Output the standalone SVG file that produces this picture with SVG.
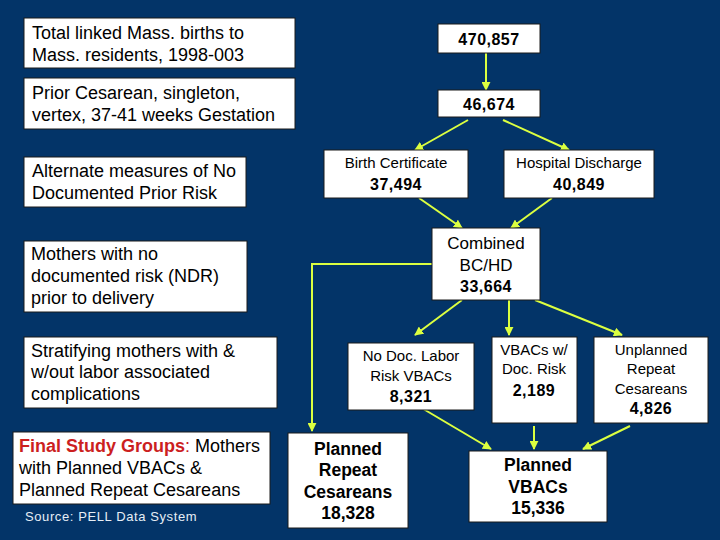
<svg xmlns="http://www.w3.org/2000/svg" width="720" height="540" viewBox="0 0 720 540">
<defs>
<style>
.box{fill:#ffffff;stroke:#1a1a1a;stroke-width:1}
.t{font-family:"Liberation Sans",Arial,sans-serif;font-size:18px;fill:#000}
.s{font-family:"Liberation Sans",Arial,sans-serif;font-size:15px;fill:#000;text-anchor:middle}
.n{font-family:"Liberation Sans",Arial,sans-serif;font-size:16px;font-weight:bold;fill:#000;text-anchor:middle;letter-spacing:0.5px}
.b{font-family:"Liberation Sans",Arial,sans-serif;font-size:17.5px;font-weight:bold;fill:#000;text-anchor:middle}
.c{font-family:"Liberation Sans",Arial,sans-serif;font-size:17px;fill:#000;text-anchor:middle}
.ar{stroke:#dcff40;stroke-width:2;fill:none;marker-end:url(#ah)}
</style>
<marker id="ah" viewBox="0 0 10 10" refX="9" refY="5" markerWidth="4.5" markerHeight="4.5" orient="auto" markerUnits="strokeWidth">
<path d="M0,0 L10,5 L0,10 z" fill="#dcff40"/>
</marker>
</defs>
<rect width="720" height="540" fill="#033468"/>

<g id="connectors">
<line class="ar" x1="486" y1="53" x2="486" y2="90"/>
<line class="ar" x1="468" y1="120" x2="415" y2="150"/>
<line class="ar" x1="503" y1="120" x2="569" y2="150"/>
<line class="ar" x1="419" y1="198" x2="462" y2="228"/>
<line class="ar" x1="552" y1="198" x2="511" y2="228"/>
<polyline class="ar" points="432,264 312,264 312,431"/>
<line class="ar" x1="462" y1="300" x2="415" y2="335"/>
<line class="ar" x1="509" y1="300" x2="509" y2="335"/>
<line class="ar" x1="535" y1="300" x2="622" y2="335"/>
<line class="ar" x1="420" y1="407" x2="491" y2="449"/>
<line class="ar" x1="534" y1="426" x2="534" y2="449"/>
<line class="ar" x1="630" y1="426" x2="583" y2="449"/>
</g>

<g id="label-total">
<rect class="box" x="24" y="18" width="271" height="50"/>
<text class="t" x="32" y="39">Total linked Mass. births to</text>
<text class="t" x="32" y="61">Mass. residents, 1998-003</text>
</g>
<g id="label-prior">
<rect class="box" x="24" y="78" width="271" height="51"/>
<text class="t" x="32" y="99">Prior Cesarean, singleton,</text>
<text class="t" x="32" y="121">vertex, 37-41 weeks Gestation</text>
</g>
<g id="label-alternate">
<rect class="box" x="24" y="157" width="222" height="50"/>
<text class="t" x="32" y="177">Alternate measures of No</text>
<text class="t" x="32" y="199">Documented Prior Risk</text>
</g>
<g id="label-mothers">
<rect class="box" x="24" y="241" width="223" height="71"/>
<text class="t" x="31" y="260">Mothers with no</text>
<text class="t" x="31" y="282">documented risk (NDR)</text>
<text class="t" x="31" y="304">prior to delivery</text>
</g>
<g id="label-stratifying">
<rect class="box" x="24" y="337" width="253" height="71"/>
<text class="t" x="31" y="357">Stratifying mothers with &amp;</text>
<text class="t" x="31" y="378">w/out labor associated</text>
<text class="t" x="31" y="400">complications</text>
</g>
<g id="label-final">
<rect class="box" x="13" y="432" width="257" height="72"/>
<text class="t" x="19" y="452"><tspan fill="#cc1f1f" font-weight="bold">Final Study Groups</tspan><tspan fill="#cc1f1f">:</tspan> Mothers</text>
<text class="t" x="19" y="474">with Planned VBACs &amp;</text>
<text class="t" x="19" y="496">Planned Repeat Cesareans</text>
</g>
<text x="25" y="521" font-family="Liberation Sans, Arial, sans-serif" font-size="13" fill="#e6eef6" letter-spacing="0.6">Source: PELL Data System</text>

<g id="n470857">
<rect class="box" x="438" y="24" width="102" height="29"/>
<text class="n" x="489" y="45" font-size="17">470,857</text>
</g>
<g id="n46674">
<rect class="box" x="438" y="90" width="102" height="27"/>
<text class="n" x="489" y="110" font-size="17">46,674</text>
</g>
<g id="birth-certificate">
<rect class="box" x="324" y="150" width="144" height="48"/>
<text class="s" x="396" y="168">Birth Certificate</text>
<text class="n" x="396" y="190">37,494</text>
</g>
<g id="hospital-discharge">
<rect class="box" x="504" y="150" width="150" height="48"/>
<text class="s" x="579" y="168">Hospital Discharge</text>
<text class="n" x="579" y="190">40,849</text>
</g>
<g id="combined">
<rect class="box" x="432" y="228" width="108" height="72"/>
<text class="c" x="486" y="249">Combined</text>
<text class="c" x="486" y="271">BC/HD</text>
<text class="n" x="486" y="292" font-size="17">33,664</text>
</g>
<g id="no-doc">
<rect class="box" x="348" y="343" width="126" height="67"/>
<text class="s" x="411" y="361" font-size="14.5">No Doc. Labor</text>
<text class="s" x="411" y="381" font-size="14.5">Risk VBACs</text>
<text class="n" x="411" y="402">8,321</text>
</g>
<g id="vbacs-doc">
<rect class="box" x="492" y="337" width="85" height="86"/>
<text class="s" x="534" y="355" font-size="14.5">VBACs w/</text>
<text class="s" x="534" y="374" font-size="14.5">Doc. Risk</text>
<text class="n" x="534" y="396">2,189</text>
</g>
<g id="unplanned">
<rect class="box" x="594" y="337" width="114" height="86"/>
<text class="s" x="651" y="355" font-size="14.5">Unplanned</text>
<text class="s" x="651" y="374" font-size="14.5">Repeat</text>
<text class="s" x="651" y="394" font-size="14.5">Cesareans</text>
<text class="n" x="651" y="414">4,826</text>
</g>
<g id="planned-repeat">
<rect class="box" x="288" y="433" width="120" height="95"/>
<text class="b" x="348" y="455">Planned</text>
<text class="b" x="348" y="476">Repeat</text>
<text class="b" x="348" y="498">Cesareans</text>
<text class="b" x="348" y="519">18,328</text>
</g>
<g id="planned-vbacs">
<rect class="box" x="469" y="451" width="138" height="71"/>
<text class="b" x="538" y="471">Planned</text>
<text class="b" x="538" y="493">VBACs</text>
<text class="b" x="538" y="514">15,336</text>
</g>
</svg>
